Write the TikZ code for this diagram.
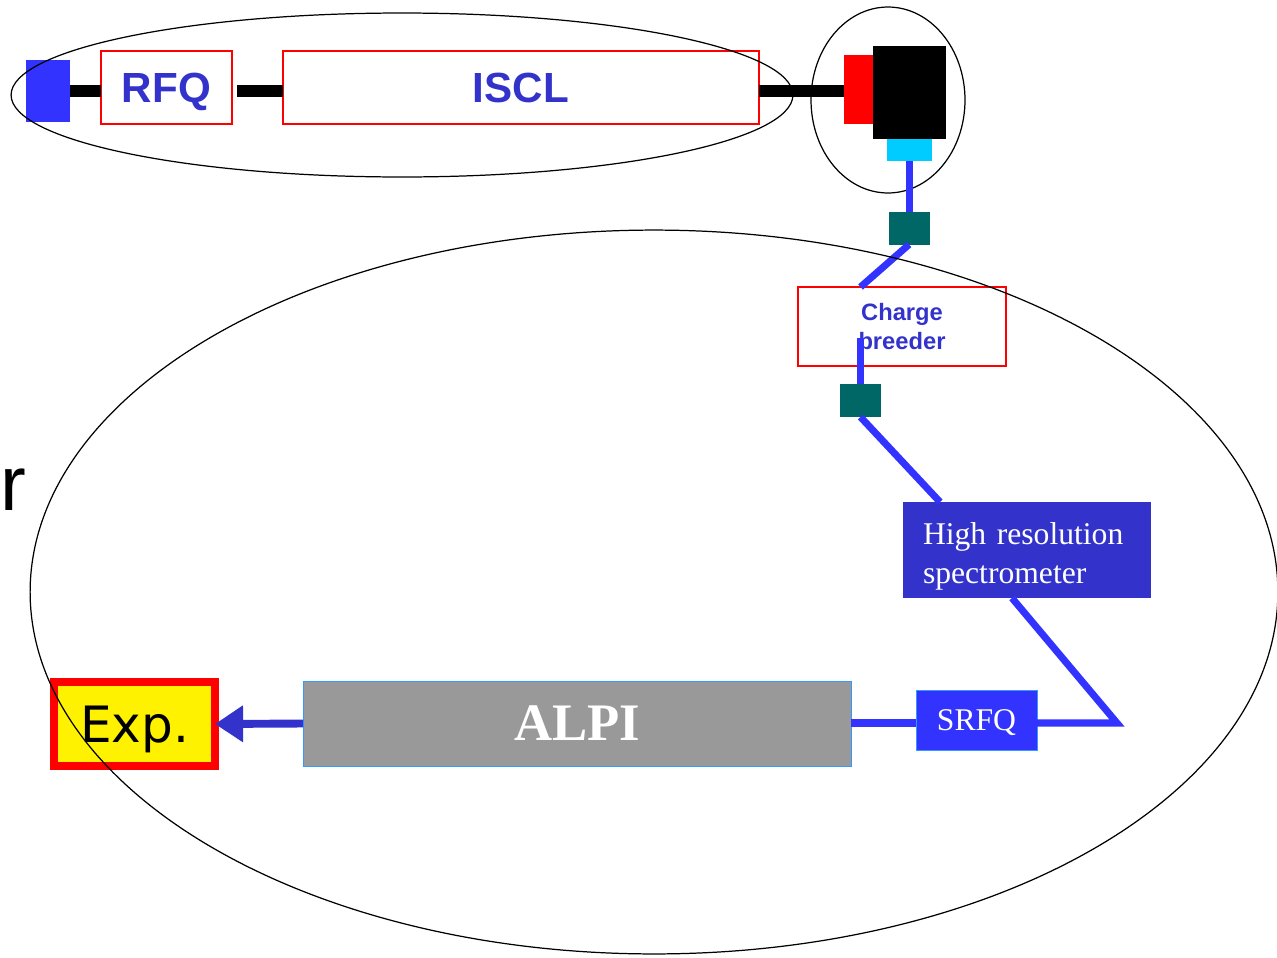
\documentclass[tikz,border=0pt]{standalone}
\usepackage{fontspec}
\usetikzlibrary{arrows.meta}
\newfontfamily\arialfont{Liberation Sans}
\newfontfamily\timesfont{Liberation Serif}
\newfontfamily\dejavufont{DejaVu Sans}
\definecolor{beam}{HTML}{3333FF}
\definecolor{labelblue}{HTML}{3333CC}
\definecolor{valvegreen}{HTML}{006666}
\definecolor{sepcyan}{HTML}{00CCFF}
\definecolor{edge}{HTML}{3399FF}
\definecolor{linacgray}{HTML}{999999}
\begin{document}
\begin{tikzpicture}[x=0.02cm,y=-0.02cm,
    blk/.style={inner sep=0pt,outer sep=0pt},
    redbox/.style={blk,draw=red,line width=1pt,text=labelblue},
    bline/.style={line width=6.8pt,black},
    beamline/.style={line width=4pt,beam},
    valve/.style={blk,fill=valvegreen,minimum width=0.82cm,minimum height=0.66cm}]
\useasboundingbox (0,0) rectangle (1277,957);
\draw[line width=0.7pt] (888,100) ellipse [x radius=1.54cm,y radius=1.86cm];
\node[blk,fill=beam,minimum width=0.88cm,minimum height=1.24cm] (src) at (48,91) {};
\node[redbox,minimum width=2.62cm,minimum height=1.46cm,text depth=0pt,font=\arialfont\bfseries\fontsize{24}{28}\selectfont] (rfq) at (166.5,87.5) {RFQ};
\node[redbox,minimum width=9.52cm,minimum height=1.46cm,text depth=0pt,font=\arialfont\bfseries\fontsize{24}{28}\selectfont] (iscl) at (521,87.5) {ISCL};
\node[blk,fill=red,minimum width=0.58cm,minimum height=1.38cm] (ecr) at (858.5,89.5) {};
\node[blk,fill=black,minimum width=1.46cm,minimum height=1.86cm] (tgt) at (909.5,92.5) {};
\node[blk,fill=sepcyan,minimum width=0.9cm,minimum height=0.44cm] (sep) at (909,150) {};
\node[valve] (v1) at (909,228) {};
\node[redbox,minimum width=4.16cm,minimum height=1.58cm,align=center,font=\arialfont\bfseries\fontsize{13.5}{16}\selectfont] (cb) at (902,326.5) {Charge\\breeder};
\node[valve] (v2) at (860.5,400.5) {};
\node[blk,fill=labelblue,text=white,inner xsep=0.4cm,text width=4.16cm,minimum height=1.92cm,align=left,font=\timesfont\fontsize{18}{22}\selectfont] (hrs) at (1027,550) {\rule{0pt}{19.5pt}High resolution\\spectrometer};
\node[blk,fill=beam,draw=edge,text=white,minimum width=2.42cm,minimum height=1.2cm,text depth=0pt,font=\timesfont\fontsize{18}{21}\selectfont] (srfq) at (976.5,720) {SRFQ};
\node[blk,fill=linacgray,draw=edge,text=white,minimum width=10.96cm,minimum height=1.7cm,font=\timesfont\bfseries\fontsize{30}{34}\selectfont] (alpi) at (577,723.5) {ALPI};
\node[blk,fill=yellow,draw=red,line width=4.5pt,minimum width=3.22cm,minimum height=1.68cm,text depth=0pt,font=\dejavufont\fontsize{28.5}{32}\selectfont] (exp) at (134.5,724) {Exp.};
\node[blk,anchor=base west,font=\arialfont\fontsize{44}{48}\selectfont] (cut) at (0,510) {r};
\coordinate (cbin) at (860.5,338);
\coordinate (hin) at (940,502);
\coordinate (hout) at (1012,598);
\coordinate (bend) at (1117,723);
\draw[bline] (src.east) -- (rfq.west |- src);
\draw[bline,shorten <=0.1cm] (rfq.east |- src) -- (iscl.west |- src);
\draw[bline] (iscl.east |- src) -- (ecr.west |- src);
\draw[beamline] (sep.south) -- (v1.north);
\draw[beamline] (v1.south) -- (cb.north -| v2);
\draw[beamline] (cbin) -- (v2.north);
\draw[beamline] (v2.south) -- (hin);
\draw[beamline] (hout) -- (bend) -- (srfq.east |- bend);
\draw[beamline] (srfq.west |- bend) -- (alpi.east |- bend);
\draw[line width=4.5pt,labelblue,-{Triangle[length=16pt,width=20pt]}] (alpi.west) -- (exp.east);
\draw[line width=0.7pt] (402,95) ellipse [x radius=7.82cm,y radius=1.64cm];
\draw[line width=0.7pt] (654,592) ellipse [x radius=12.48cm,y radius=7.24cm];
\end{tikzpicture}
\end{document}
